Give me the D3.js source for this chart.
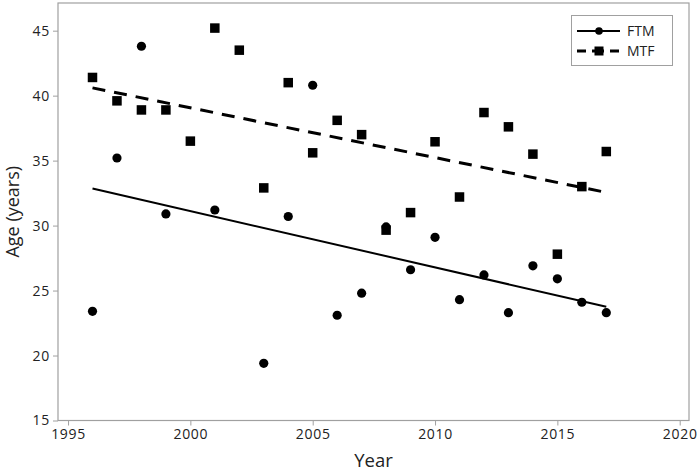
<!DOCTYPE html>
<html>
<head>
<meta charset="utf-8">
<script src="https://cdn.jsdelivr.net/npm/d3@7"></script>
<style>
  body { margin: 0; background: #fff; }
  text { font-family: "Open Sans", "Noto Sans", sans-serif; fill: #222; }
</style>
</head>
<body>
<svg id="chart"></svg>
<script>
// FTM (circles)
const ftmYears = [1996, 1997, 1998, 1999, 2001, 2003, 2004, 2005, 2006, 2007, 2008, 2009, 2010, 2011, 2012, 2013, 2014, 2015, 2016, 2017];
const ftmAges  = [23.4, 35.2, 43.8, 30.9, 31.2, 19.4, 30.7, 40.8, 23.1, 24.8, 29.9, 26.6, 29.1, 24.3, 26.2, 23.3, 26.9, 25.9, 24.1, 23.3];
// MTF (squares)
const mtfYears = [1996, 1997, 1998, 1999, 2000, 2001, 2002, 2003, 2004, 2005, 2006, 2007, 2008, 2009, 2010, 2011, 2012, 2013, 2014, 2015, 2016, 2017];
const mtfAges  = [41.4, 39.6, 38.9, 38.9, 36.5, 45.2, 43.5, 32.9, 41.0, 35.6, 38.1, 37.0, 29.65, 31.0, 36.45, 32.2, 38.7, 37.6, 35.5, 27.8, 33.0, 35.7];
// fitted lines, end points
const ftmFit = [[1996, 32.85], [2017, 23.75]];
const mtfFit = [[1996, 40.6], [2017, 32.55]];

const xTicks = [1995, 2000, 2005, 2010, 2015, 2020];
const yTicks = [15, 20, 25, 30, 35, 40, 45];

const width = 699, height = 473;
const pLeft = 58, pRight = 689, pTop = 3, pBottom = 420.5;

let svg = d3.select("#chart").attr("width", width).attr("height", height);

let xScale = d3.scaleLinear().domain([1994.59, 2020.38]).range([pLeft, pRight]);
let yScale = d3.scaleLinear().domain([15, 47.13]).range([pBottom, pTop]);

// frame
svg.append("rect")
  .attr("x", pLeft).attr("y", pTop)
  .attr("width", pRight - pLeft).attr("height", pBottom - pTop)
  .attr("fill", "none").attr("stroke", "#a0a0a0").attr("stroke-width", 1.2);

let xAxis = d3.axisBottom(xScale).tickValues(xTicks).tickFormat(d3.format("d")).tickSize(5).tickPadding(4);
let gx = svg.append("g").attr("transform", "translate(0," + pBottom + ")").call(xAxis);
let yAxis = d3.axisLeft(yScale).tickValues(yTicks).tickSize(5).tickPadding(3);
let gy = svg.append("g").attr("transform", "translate(" + pLeft + ",0)").call(yAxis);

[gx, gy].forEach(g => {
  g.select(".domain").remove();
  g.selectAll("line").attr("stroke", "#a0a0a0");
  g.selectAll("text").style("font-size", "14px").attr("fill", "#1a1a1a").style("letter-spacing", "0.7px");
});

// axis titles
svg.append("text")
  .attr("x", (pLeft + pRight) / 2).attr("y", 467)
  .attr("text-anchor", "middle")
  .style("font-size", "18.5px")
  .text("Year");

svg.append("text")
  .attr("transform", "translate(19," + ((pTop + pBottom) / 2) + ") rotate(-90)")
  .attr("text-anchor", "middle")
  .style("font-size", "18px")
  .text("Age (years)");

// fit lines
let line = d3.line().x(d => xScale(d[0])).y(d => yScale(d[1]));
svg.append("path").datum(ftmFit).attr("d", line)
  .attr("fill", "none").attr("stroke", "#000").attr("stroke-width", 2);
svg.append("path").datum(mtfFit).attr("d", line)
  .attr("fill", "none").attr("stroke", "#000").attr("stroke-width", 3)
  .attr("stroke-dasharray", "13,9");

// points
const sq = 9.5;
svg.selectAll(".mtf")
  .data(mtfYears.map((y, i) => [y, mtfAges[i]]))
  .enter().append("rect")
  .attr("class", "mtf")
  .attr("x", d => xScale(d[0]) - sq / 2)
  .attr("y", d => yScale(d[1]) - sq / 2)
  .attr("width", sq).attr("height", sq)
  .attr("fill", "#000");

svg.selectAll(".ftm")
  .data(ftmYears.map((y, i) => [y, ftmAges[i]]))
  .enter().append("circle")
  .attr("class", "ftm")
  .attr("cx", d => xScale(d[0]))
  .attr("cy", d => yScale(d[1]))
  .attr("r", 4.6)
  .attr("fill", "#000");

// legend
let legend = svg.append("g");
legend.append("rect")
  .attr("x", 571.5).attr("y", 15.5).attr("width", 101).attr("height", 50)
  .attr("fill", "#fff").attr("stroke", "#a0a0a0").attr("stroke-width", 1);

const legendItems = [
  { name: "FTM", dash: null, w: 2, shape: "circle" },
  { name: "MTF", dash: "9,6,12,6,9", w: 3, shape: "square" }
];
legendItems.forEach((it, i) => {
  let cy = 31 + i * 20;
  let ln = legend.append("line")
    .attr("x1", 577).attr("x2", 620).attr("y1", cy).attr("y2", cy)
    .attr("stroke", "#000").attr("stroke-width", it.w);
  if (it.dash) ln.attr("stroke-dasharray", it.dash);
  if (it.shape === "circle") {
    legend.append("circle").attr("cx", 599).attr("cy", cy).attr("r", 3.8).attr("fill", "#000");
  } else {
    legend.append("rect").attr("x", 594.5).attr("y", cy - 4.5).attr("width", 9).attr("height", 9).attr("fill", "#000");
  }
  legend.append("text")
    .attr("x", 627).attr("y", cy + 5)
    .style("font-size", "14px")
    .text(it.name);
});
</script>
</body>
</html>
